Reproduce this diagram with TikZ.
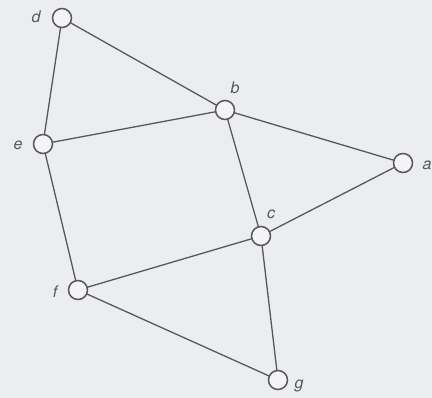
\documentclass[tikz,border=0pt]{standalone}
\usepackage{fontspec}
\setmainfont{TeX Gyre Heros}
\definecolor{bg}{RGB}{236,237,240}
\definecolor{ln}{RGB}{88,88,92}
\definecolor{vfill}{RGB}{244,244,246}
\begin{document}
\begin{tikzpicture}[x=1pt,y=-1pt,
  vtx/.style={circle,draw=ln,fill=vfill,line width=1.5pt,minimum size=19pt,inner sep=0pt},
  lbl/.style={font=\fontsize{16}{18}\selectfont\itshape,text=ln,inner sep=0pt},
  edge/.style={draw=ln,line width=1.3pt}]
\fill[bg] (0,0) rectangle (432,398);
\useasboundingbox (0,0) rectangle (432,398);
\coordinate (pd) at (62,18);
\coordinate (pe) at (43,144);
\coordinate (pb) at (225,110);
\coordinate (pa) at (403,163);
\coordinate (pc) at (261,236);
\coordinate (pf) at (78,290);
\coordinate (pg) at (278,380);
\draw[edge] (pd) -- (pb);
\draw[edge] (pd) -- (pe);
\draw[edge] (pe) -- (pb);
\draw[edge] (pb) -- (pa);
\draw[edge] (pb) -- (pc);
\draw[edge] (pc) -- (pa);
\draw[edge] (pe) -- (pf);
\draw[edge] (pf) -- (pc);
\draw[edge] (pc) -- (pg);
\draw[edge] (pf) -- (pg);
\node[vtx] (d) at (pd) {};
\node[vtx] (e) at (pe) {};
\node[vtx] (b) at (pb) {};
\node[vtx] (a) at (pa) {};
\node[vtx] (c) at (pc) {};
\node[vtx] (f) at (pf) {};
\node[vtx] (g) at (pg) {};
\node[lbl] (ld) at (36,17) {d};
\node[lbl] (le) at (18,145) {e};
\node[lbl] (lb) at (235,88) {b};
\node[lbl] (la) at (427,165) {a};
\node[lbl] (lc) at (271,214) {c};
\node[lbl] (lf) at (55,292) {f};
\node[lbl] (lg) at (299,386) {g};
\end{tikzpicture}
\end{document}
